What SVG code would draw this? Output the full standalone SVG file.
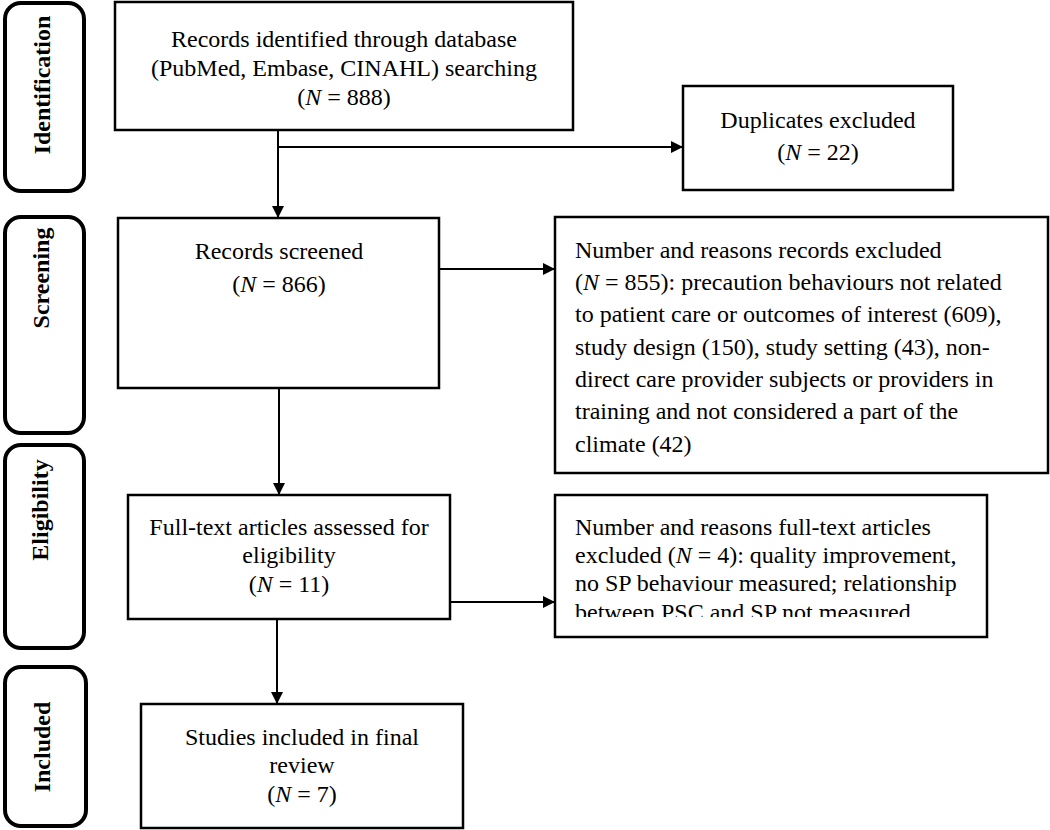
<svg xmlns="http://www.w3.org/2000/svg" width="1050" height="830" viewBox="0 0 1050 830">
<style>
.phase{fill:#fff;stroke:#000;stroke-width:4}
.phase-t{font-family:"Liberation Serif",serif;font-size:24px;font-weight:bold;fill:#000;text-anchor:middle}
.box{fill:#fff;stroke:#000;stroke-width:2.5}
.t{font-family:"Liberation Serif",serif;font-size:24px;fill:#000}
.c{text-anchor:middle}
.i{font-style:italic}
.conn{stroke:#000;stroke-width:2;fill:none}
</style>
<defs>
<marker id="ah" markerWidth="12" markerHeight="12" refX="12" refY="6" orient="auto" markerUnits="userSpaceOnUse">
<path d="M0,0 L12,6 L0,12 Z" fill="#000"/>
</marker>
<clipPath id="clip7"><rect x="556" y="496" width="430" height="121"/></clipPath>
</defs>

<g id="phase-identification">
<rect class="phase" x="5" y="3" width="79" height="188" rx="16"/>
<text class="phase-t" transform="translate(50,85) rotate(-90)">Identification</text>
</g>
<g id="phase-screening">
<rect class="phase" x="5" y="217" width="79" height="216" rx="16"/>
<text class="phase-t" transform="translate(49,278) rotate(-90)">Screening</text>
</g>
<g id="phase-eligibility">
<rect class="phase" x="5" y="445" width="79" height="203" rx="16"/>
<text class="phase-t" transform="translate(48,510) rotate(-90)">Eligibility</text>
</g>
<g id="phase-included">
<rect class="phase" x="5" y="667" width="81" height="159" rx="16"/>
<text class="phase-t" transform="translate(50,747) rotate(-90)">Included</text>
</g>

<g id="connectors">
<line class="conn" x1="278" y1="130" x2="278" y2="218" marker-end="url(#ah)"/>
<line class="conn" x1="278" y1="147" x2="683" y2="147" marker-end="url(#ah)"/>
<line class="conn" x1="439" y1="269" x2="555" y2="269" marker-end="url(#ah)"/>
<line class="conn" x1="279" y1="388" x2="279" y2="495" marker-end="url(#ah)"/>
<line class="conn" x1="450" y1="602" x2="555" y2="602" marker-end="url(#ah)"/>
<line class="conn" x1="277" y1="619" x2="277" y2="704" marker-end="url(#ah)"/>
</g>

<g id="records-identified">
<rect class="box" x="115" y="2" width="458" height="128"/>
<text class="t c" x="344" y="47">Records identified through database</text>
<text class="t c" x="344" y="76">(PubMed, Embase, CINAHL) searching</text>
<text class="t c" x="344" y="105">(<tspan class="i">N</tspan> = 888)</text>
</g>

<g id="duplicates-excluded">
<rect class="box" x="683" y="86" width="270" height="104"/>
<text class="t c" x="818" y="128">Duplicates excluded</text>
<text class="t c" x="818" y="160">(<tspan class="i">N</tspan> = 22)</text>
</g>

<g id="records-screened">
<rect class="box" x="118" y="218" width="321" height="170"/>
<text class="t c" x="279" y="259">Records screened</text>
<text class="t c" x="279" y="292">(<tspan class="i">N</tspan> = 866)</text>
</g>

<g id="records-excluded">
<rect class="box" x="555" y="217" width="493" height="256"/>
<text class="t" x="575" y="258">Number and reasons records excluded</text>
<text class="t" x="575" y="290">(<tspan class="i">N</tspan> = 855): precaution behaviours not related</text>
<text class="t" x="575" y="322">to patient care or outcomes of interest (609),</text>
<text class="t" x="575" y="355">study design (150), study setting (43), non-</text>
<text class="t" x="575" y="387">direct care provider subjects or providers in</text>
<text class="t" x="575" y="419">training and not considered a part of the</text>
<text class="t" x="575" y="452">climate (42)</text>
</g>

<g id="fulltext-assessed">
<rect class="box" x="128" y="495" width="322" height="124"/>
<text class="t c" x="289" y="535">Full-text articles assessed for</text>
<text class="t c" x="289" y="563">eligibility</text>
<text class="t c" x="289" y="592">(<tspan class="i">N</tspan> = 11)</text>
</g>

<g id="fulltext-excluded">
<rect class="box" x="555" y="495" width="432" height="142"/>
<g clip-path="url(#clip7)">
<text class="t" x="575" y="535">Number and reasons full-text articles</text>
<text class="t" x="575" y="563">excluded (<tspan class="i">N</tspan> = 4): quality improvement,</text>
<text class="t" x="575" y="591">no SP behaviour measured; relationship</text>
<text class="t" x="575" y="620">between PSC and SP not measured</text>
</g>
</g>

<g id="studies-included">
<rect class="box" x="141" y="704" width="322" height="124"/>
<text class="t c" x="302" y="745">Studies included in final</text>
<text class="t c" x="302" y="773">review</text>
<text class="t c" x="302" y="802">(<tspan class="i">N</tspan> = 7)</text>
</g>
</svg>
